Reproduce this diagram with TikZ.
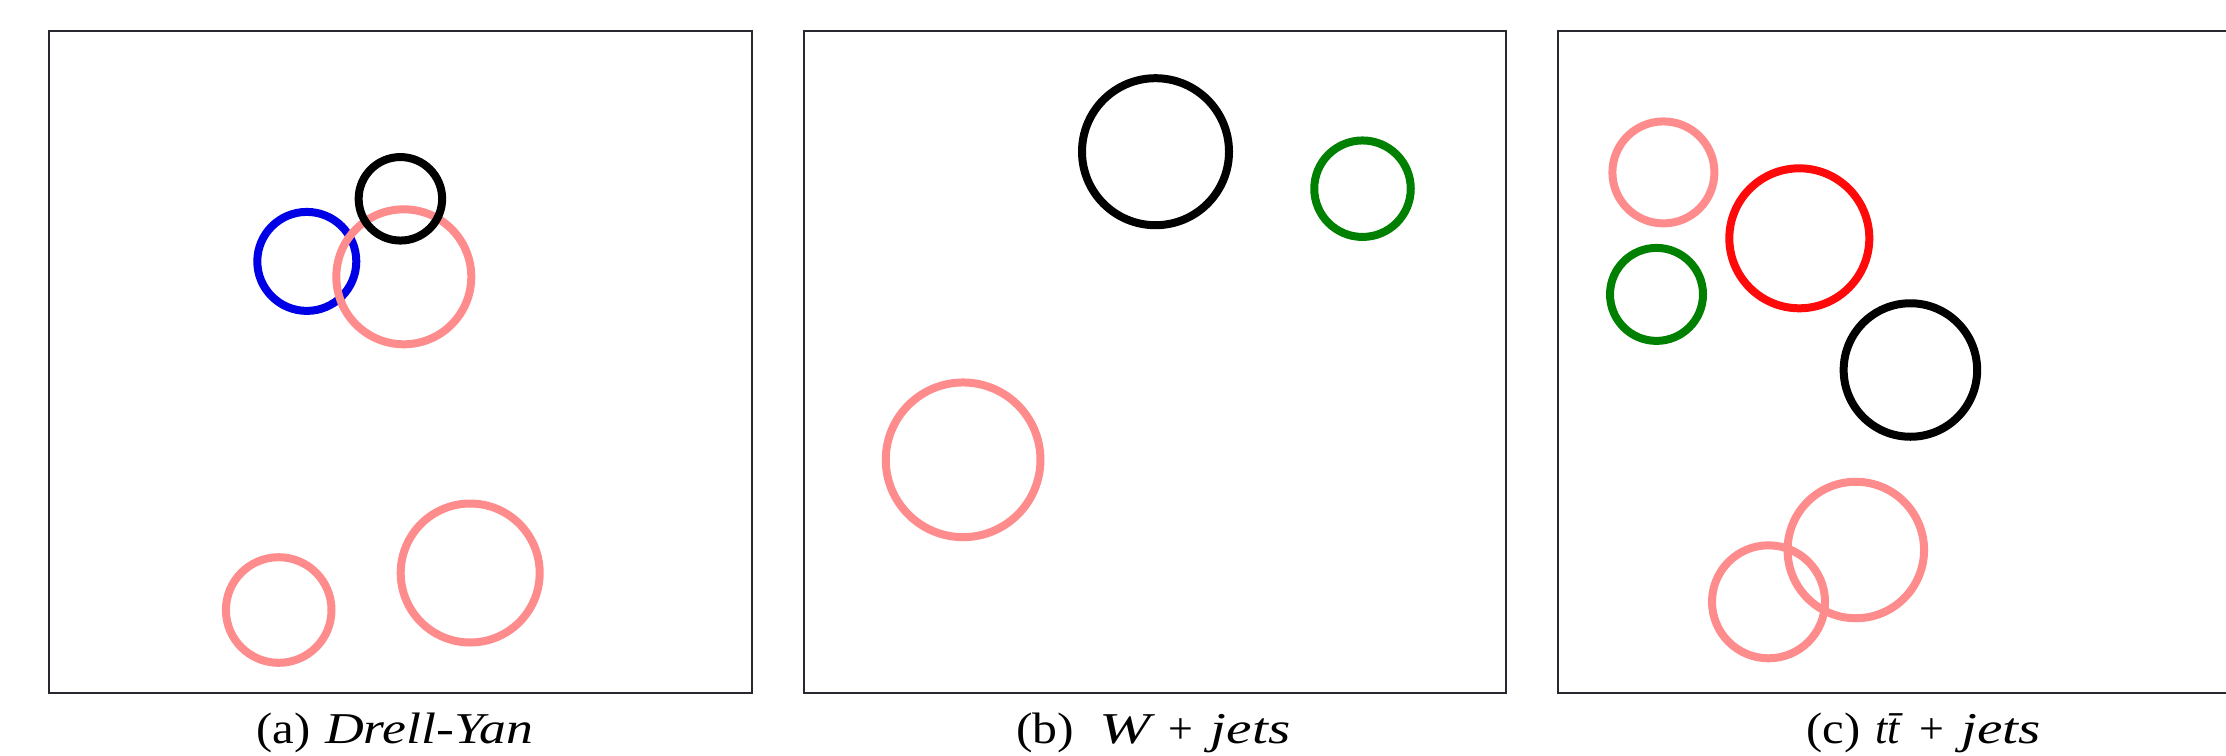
\documentclass[tikz,border=0pt]{standalone}
\usepackage{fontspec}
\setmainfont{Liberation Serif}
\definecolor{ringpink}{RGB}{255,140,140}
\definecolor{ringgreen}{RGB}{0,128,0}
\definecolor{ringblue}{RGB}{0,0,230}
\definecolor{ringred}{RGB}{255,10,10}
\definecolor{framegray}{RGB}{40,40,48}
\newcommand{\sx}[2]{\scalebox{#1}[1]{#2}}
\begin{document}
\begin{tikzpicture}[x=1pt,y=-1pt,
  ring/.style={draw, circle, inner sep=0pt, line width=8pt},
  panel/.style={draw=framegray, line width=2pt, rectangle, inner sep=0pt},
  captext/.style={font=\fontsize{44}{48}\selectfont, anchor=base west, inner sep=0pt}]
\useasboundingbox (0,0) rectangle (2226,755);
\clip (0,0) rectangle (2226,755);
% frames
\node[panel, minimum width=703.8pt, minimum height=662pt] (fa) at (400.4,362) {};
\node[panel, minimum width=702.9pt, minimum height=662pt] (fb) at (1155,362) {};
\node[panel, minimum width=729pt, minimum height=662pt] (fc) at (1922.5,362) {};
% panel (a)
\node[ring, draw=ringblue, minimum size=99pt] (a1) at (306.8,261.4) {};
\node[ring, draw=ringpink, minimum size=135pt] (a2) at (403.8,276.8) {};
\node[ring, draw=black, minimum size=83.5pt] (a3) at (400.4,198.8) {};
\node[ring, draw=ringpink, minimum size=105.6pt] (a4) at (278.7,610) {};
\node[ring, draw=ringpink, minimum size=139pt] (a5) at (470.2,573) {};
% panel (b)
\node[ring, draw=black, minimum size=147pt] (b1) at (1155.5,151.7) {};
\node[ring, draw=ringgreen, minimum size=96.5pt] (b2) at (1362.5,188.7) {};
\node[ring, draw=ringpink, minimum size=154.7pt] (b3) at (963.1,459.8) {};
% panel (c)
\node[ring, draw=ringpink, minimum size=102pt] (c1) at (1663.4,172.4) {};
\node[ring, draw=ringred, minimum size=140pt] (c2) at (1799.3,238.3) {};
\node[ring, draw=ringgreen, minimum size=93pt] (c3) at (1656.5,294.4) {};
\node[ring, draw=black, minimum size=133.5pt] (c4) at (1910.4,370) {};
\node[ring, draw=ringpink, minimum size=136.5pt] (c5) at (1855.8,550) {};
\node[ring, draw=ringpink, minimum size=113pt] (c6) at (1768.5,601.8) {};
% captions
\node[captext] (ta) at (256,743) {\sx{1.106}{(a)}\hspace{15pt}\sx{1.22}{\textit{Drell-Yan}}};
\node[captext] (tb) at (1016,743) {\sx{1.13}{(b)}\hspace{25pt}\sx{1.4}{\textit{W}}\hspace{13pt}+\hspace{18pt}\sx{1.3}{\textit{jets}}};
\node[captext] (tc) at (1806,743) {\sx{1.106}{(c)}\hspace{15pt}\textit{t\={t}}\hspace{9pt}+\hspace{17pt}\sx{1.3}{\textit{jets}}};
\end{tikzpicture}
\end{document}
